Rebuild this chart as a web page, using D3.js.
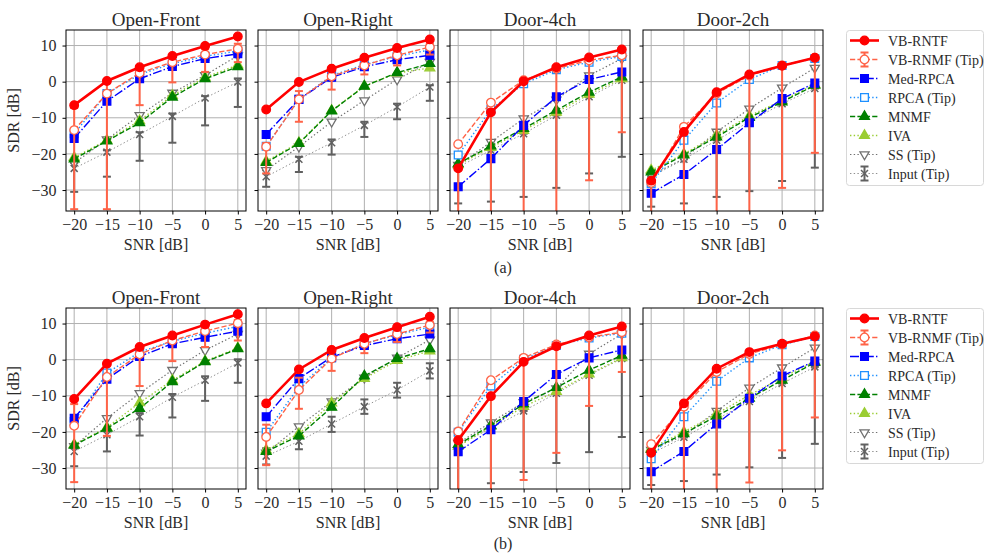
<!DOCTYPE html>
<html>
<head>
<meta charset="utf-8">
<script src="https://cdn.jsdelivr.net/npm/d3@7"></script>
<style>
  body { margin: 0; background: #fff; }
  text { font-family: "Liberation Serif", "DejaVu Serif", serif; fill: #2a2a2a; }
</style>
</head>
<body>
<div id="chart"></div>
<script>
// x axis values and names
const snr = [-20, -15, -10, -5, 0, 5];
const yTicks = [10, 0, -10, -20, -30];
const panelTitles = ["Open-Front", "Open-Right", "Door-4ch", "Door-2ch"];
const methods = ["VB-RNTF", "VB-RNMF (Tip)", "Med-RPCA", "RPCA (Tip)", "MNMF", "IVA", "SS (Tip)", "Input (Tip)"];

// SDR values, one row per method (same order as `methods`)
// (a)
const sdrA_OpenFront = [
  [-6.5, 0.2, 4.0, 7.1, 9.9, 12.5],
  [-13.4, -3.3, 2.4, 5.4, 7.5, 9.1],
  [-15.7, -5.4, 0.8, 4.2, 6.4, 7.7],
  [-14.4, -3.3, 2.0, 5.0, 7.0, 8.5],
  [-21.4, -16.4, -11.4, -4.3, 0.8, 4.1],
  [-21.0, -16.2, -10.8, -3.8, 1.2, 4.6],
  [-22.5, -16.0, -9.3, -3.1, 1.8, 7.2],
  [-24.0, -19.5, -14.6, -9.6, -4.5, -0.1]
];
const sdrA_OpenRight = [
  [-7.7, -0.1, 3.6, 6.6, 9.3, 11.7],
  [-18.0, -4.9, 1.5, 4.5, 7.3, 9.6],
  [-14.6, -4.9, 1.2, 4.1, 6.1, 7.3],
  [-17.9, -4.9, 1.7, 4.7, 7.0, 8.8],
  [-22.4, -17.1, -8.1, -1.3, 2.5, 5.0],
  [-22.0, -16.9, -8.0, -1.2, 2.4, 3.8],
  [-24.5, -18.0, -11.1, -5.2, 0.6, 5.4],
  [-26.3, -21.5, -16.9, -12.1, -7.0, -1.5]
];
const sdrA_Door4ch = [
  [-24.0, -8.5, 0.1, 4.0, 6.7, 8.9],
  [-17.3, -5.8, 0.4, 3.6, 5.9, 7.3],
  [-29.1, -21.3, -12.1, -4.2, 0.6, 2.7],
  [-20.3, -7.7, -0.6, 3.3, 5.4, 7.0],
  [-22.7, -17.8, -13.0, -7.9, -2.9, 1.3],
  [-23.0, -18.2, -13.5, -8.5, -3.5, 0.8],
  [-23.1, -16.7, -10.2, -5.0, 1.7, 6.4],
  [-23.6, -19.0, -14.4, -9.3, -4.2, 0.4]
];
const sdrA_Door2ch = [
  [-27.4, -13.9, -2.9, 2.0, 4.4, 6.6],
  [-28.0, -12.5, -3.3, 1.7, 4.5, 6.6],
  [-30.9, -25.7, -18.8, -11.4, -4.7, -0.4],
  [-28.2, -16.2, -5.9, 0.6, 4.5, 6.4],
  [-25.0, -20.3, -15.3, -9.9, -5.6, -1.0],
  [-24.5, -20.0, -14.8, -9.5, -5.2, -0.8],
  [-25.9, -21.3, -13.9, -7.5, -1.7, 3.8],
  [-26.3, -21.5, -16.2, -11.1, -6.1, -1.9]
];
// (b)
const sdrB_OpenFront = [
  [-10.9, -1.1, 3.5, 6.7, 9.7, 12.6],
  [-18.3, -4.8, 1.5, 5.3, 7.9, 10.1],
  [-16.2, -5.4, 0.9, 4.4, 6.2, 7.9],
  [-17.1, -3.7, 2.1, 5.1, 7.3, 9.2],
  [-23.7, -19.0, -13.5, -6.1, -0.6, 3.0],
  [-23.5, -18.8, -11.9, -5.7, -0.4, 3.2],
  [-24.0, -16.2, -9.3, -2.9, 2.6, 7.1],
  [-25.4, -20.8, -15.8, -10.4, -5.7, -0.9]
];
const sdrB_OpenRight = [
  [-12.1, -2.7, 2.7, 6.0, 9.0, 11.9],
  [-21.4, -8.4, 0.3, 4.4, 7.1, 9.6],
  [-15.8, -5.2, 0.7, 3.9, 5.8, 7.1],
  [-20.1, -7.5, 0.5, 4.4, 6.9, 9.0],
  [-25.4, -21.1, -13.2, -4.5, 0.3, 3.0],
  [-25.0, -20.5, -12.0, -5.2, -0.2, 2.4],
  [-25.8, -18.5, -11.6, -5.0, 0.5, 5.5],
  [-26.7, -22.6, -17.8, -13.0, -8.4, -3.1]
];
const sdrB_Door4ch = [
  [-22.3, -10.1, -0.6, 3.7, 6.7, 9.2],
  [-19.9, -5.7, 0.5, 4.2, 6.2, 7.6],
  [-25.5, -19.4, -11.6, -4.1, 0.5, 2.7],
  [-20.1, -7.3, 0.1, 3.9, 6.0, 7.3],
  [-23.5, -18.2, -12.3, -7.7, -2.9, 1.2],
  [-24.0, -18.5, -13.0, -8.8, -4.0, 0.5],
  [-23.1, -17.4, -11.8, -8.0, 1.6, 7.1],
  [-23.7, -19.0, -14.2, -9.3, -4.3, 0.3]
];
const sdrB_Door2ch = [
  [-25.8, -12.1, -2.5, 2.1, 4.4, 6.4],
  [-23.4, -13.0, -3.4, 1.6, 4.2, 6.7],
  [-31.0, -25.4, -17.8, -10.7, -4.5, -0.4],
  [-27.4, -15.8, -6.0, 0.5, 4.1, 6.4],
  [-24.9, -20.5, -15.6, -10.7, -5.7, -0.8],
  [-24.5, -20.0, -15.0, -9.8, -5.0, -0.5],
  [-25.0, -21.0, -14.2, -7.8, -2.2, 3.3],
  [-26.0, -21.5, -16.5, -11.6, -6.6, -2.0]
];

// error bars: [VB-RNMF low, VB-RNMF high, Input low, Input high]
const errA_OpenFront = [
  [-35.3, -35.3, -6.5, -0.2, 2.7, 5.4],
  [-7.3, 0.5, 4.0, 7.0, 9.0, 10.5],
  [-30.5, -26.3, -21.9, -16.9, -12.1, -7.0],
  [-22.5, -19.0, -14.0, -8.8, -4.0, 0.9]
];
const errA_OpenRight = [
  [-25.4, -11.1, -2.2, 2.0, 4.5, 7.5],
  [-17.0, -2.6, 3.0, 6.0, 8.5, 10.5],
  [-29.1, -25.0, -20.2, -15.3, -10.4, -5.3],
  [-24.5, -20.8, -16.0, -11.1, -6.1, -1.0]
];
const errA_Door4ch = [
  [-40, -40, -40, -40, -27.3, -14.0],
  [-24.0, -8.5, 0.1, 4.0, 6.7, 8.9],
  [-33.7, -33.2, -31.9, -29.4, -25.4, -20.8],
  [-23.6, -19.0, -14.4, -9.3, -4.2, 0.4]
];
const errA_Door2ch = [
  [-40, -40, -40, -40, -29.4, -19.7],
  [-27.4, -13.9, -2.9, 2.0, 4.4, 6.6],
  [-34.6, -33.7, -31.9, -30.3, -27.5, -23.8],
  [-26.3, -21.5, -16.2, -11.1, -6.1, -1.9]
];
const errB_OpenFront = [
  [-33.9, -21.1, -7.3, -0.4, 3.5, 5.3],
  [-12.3, -1.0, 3.0, 6.5, 9.0, 11.0],
  [-29.5, -25.4, -21.0, -16.0, -11.4, -6.4],
  [-24.5, -19.5, -14.8, -9.5, -4.6, 0.1]
];
const errB_OpenRight = [
  [-29.2, -13.6, -3.1, 1.8, 4.9, 7.5],
  [-18.0, -5.0, 2.0, 5.5, 8.0, 10.5],
  [-29.0, -24.8, -20.0, -15.0, -10.5, -5.2],
  [-24.5, -20.5, -15.8, -11.0, -6.4, -1.0]
];
const errB_Door4ch = [
  [-40, -40, -33.3, -25.8, -12.8, -3.4],
  [-22.3, -10.1, -0.6, 3.7, 6.7, 9.2],
  [-40, -34.2, -31.1, -28.6, -25.6, -21.4],
  [-23.7, -19.0, -14.2, -9.3, -4.3, 0.3]
];
const errB_Door2ch = [
  [-40, -40, -40, -34.0, -25.1, -16.0],
  [-25.8, -12.1, -2.5, 2.1, 4.4, 6.4],
  [-34.7, -33.6, -31.8, -29.8, -27.2, -23.3],
  [-26.0, -21.5, -16.5, -11.6, -6.6, -2.0]
];

const rows = [
  { tag: "(a)", sdr: [sdrA_OpenFront, sdrA_OpenRight, sdrA_Door4ch, sdrA_Door2ch],
    err: [errA_OpenFront, errA_OpenRight, errA_Door4ch, errA_Door2ch] },
  { tag: "(b)", sdr: [sdrB_OpenFront, sdrB_OpenRight, sdrB_Door4ch, sdrB_Door2ch],
    err: [errB_OpenFront, errB_OpenRight, errB_Door4ch, errB_Door2ch] }
];

// look of each method
const styles = [
  { color: "#ff0000", lw: 2.6, dash: null,              marker: "circle",   fill: "#ff0000" },
  { color: "#ff6347", lw: 1.4, dash: "5.2,2.2",         marker: "circle",   fill: "#ffffff" },
  { color: "#0000ff", lw: 1.4, dash: "9,2.2,1.4,2.2",   marker: "square",   fill: "#0000ff" },
  { color: "#1e90ff", lw: 1.4, dash: "1.4,2.3",         marker: "square",   fill: "#ffffff" },
  { color: "#008000", lw: 1.4, dash: "5.2,2.2",         marker: "triangle", fill: "#008000" },
  { color: "#9acd32", lw: 1.4, dash: "1.4,2.3",         marker: "triangle", fill: "#9acd32" },
  { color: "#707070", lw: 1.2, dash: "1.4,2.3",         marker: "tridown",  fill: "#ffffff" },
  { color: "#909090", lw: 1.0, dash: "1.4,2.3",         marker: "x",        fill: "none" }
];
const errColor = ["#ff6347", "#606060"];

const width = 985, height = 553;
const panelLeft = [66, 258, 450, 643], panelW = 180, panelH = 181;
const rowTop = [30, 308];
const tagY = [273, 549];
const FONT = "'Liberation Serif', 'DejaVu Serif', serif";

const x = d3.scaleLinear().domain([-21.25, 6.25]).range([0, panelW]);
const y = d3.scaleLinear().domain([-35.8, 14.3]).range([panelH, 0]);

const svg = d3.select("#chart").append("svg")
  .attr("width", width).attr("height", height);

function markerPath(kind) {
  if (kind === "circle") return d3.symbol(d3.symbolCircle, 58)();
  if (kind === "square") return d3.symbol(d3.symbolSquare, 60)();
  if (kind === "triangle") return d3.symbol(d3.symbolTriangle, 42)();
  if (kind === "tridown") return d3.symbol(d3.symbolTriangle, 36)();
  return "M-3.5,-3.5L3.5,3.5M-3.5,3.5L3.5,-3.5";
}

function drawMarker(g, st, cx, cy) {
  g.append("path")
    .attr("d", markerPath(st.marker))
    .attr("transform", `translate(${cx},${cy})` + (st.marker === "tridown" ? " rotate(180)" : ""))
    .attr("fill", st.fill)
    .attr("stroke", st.marker === "x" ? "#606060" : st.color)
    .attr("stroke-width", st.marker === "x" ? 1.5 : 1.3);
}

function drawErr(g, col, xs, lo, hi) {
  g.append("line").attr("x1", xs).attr("x2", xs).attr("y1", y(lo)).attr("y2", y(hi))
    .attr("stroke", col).attr("stroke-width", 2);
  [lo, hi].forEach(v => {
    g.append("line").attr("x1", xs - 4).attr("x2", xs + 4).attr("y1", y(v)).attr("y2", y(v))
      .attr("stroke", col).attr("stroke-width", 2);
  });
}

function addText(g, txt, size) {
  return g.append("text").attr("font-size", size).attr("font-family", FONT).text(txt);
}

rows.forEach((row, r) => {
  row.sdr.forEach((vals, p) => {
    const err = row.err[p];
    const g = svg.append("g").attr("transform", `translate(${panelLeft[p]},${rowTop[r]})`);
    const clipId = `clip-${r}-${p}`;
    g.append("clipPath").attr("id", clipId)
      .append("rect").attr("width", panelW).attr("height", panelH);

    // grid
    g.selectAll(".gx").data(snr).enter().append("line")
      .attr("x1", d => x(d)).attr("x2", d => x(d)).attr("y1", 0).attr("y2", panelH)
      .attr("stroke", "#b0b0b0").attr("stroke-width", 1);
    g.selectAll(".gy").data(yTicks).enter().append("line")
      .attr("x1", 0).attr("x2", panelW).attr("y1", d => y(d)).attr("y2", d => y(d))
      .attr("stroke", "#b0b0b0").attr("stroke-width", 1);

    const plot = g.append("g").attr("clip-path", `url(#${clipId})`);
    const line = d3.line().x((d, i) => x(snr[i])).y(d => y(d));

    // draw back to front so VB-RNTF ends up on top
    for (let m = methods.length - 1; m >= 0; m--) {
      const st = styles[m];
      const sg = plot.append("g");
      if (m === 1 || m === 7) {
        const lo = m === 1 ? err[0] : err[2], hi = m === 1 ? err[1] : err[3];
        snr.forEach((s, i) => drawErr(sg, errColor[m === 1 ? 0 : 1], x(s), lo[i], hi[i]));
      }
      sg.append("path").datum(vals[m]).attr("d", line)
        .attr("fill", "none").attr("stroke", st.color).attr("stroke-width", st.lw)
        .attr("stroke-dasharray", st.dash);
      vals[m].forEach((v, i) => drawMarker(sg, st, x(snr[i]), y(v)));
    }

    // frame
    g.append("rect").attr("width", panelW).attr("height", panelH)
      .attr("fill", "none").attr("stroke", "#000").attr("stroke-width", 1);

    // axes
    const fmt = d => d < 0 ? "\u2212" + (-d) : d;
    const xAxis = d3.axisBottom(x).tickValues(snr).tickSize(3.5).tickPadding(4).tickFormat(fmt);
    g.append("g").attr("transform", `translate(0,${panelH})`).call(xAxis)
      .attr("font-family", FONT)
      .call(a => a.select(".domain").remove())
      .call(a => a.selectAll("text").attr("font-size", 16).attr("fill", "#2a2a2a"));
    const yAxis = d3.axisLeft(y).tickValues(yTicks).tickSize(3.5).tickPadding(6)
      .tickFormat(d => p === 0 ? fmt(d) : "");
    g.append("g").call(yAxis)
      .attr("font-family", FONT)
      .call(a => a.select(".domain").remove())
      .call(a => a.selectAll("text").attr("font-size", 16).attr("fill", "#2a2a2a"));

    addText(g, panelTitles[p], 19).attr("x", panelW / 2).attr("y", -4.5).attr("text-anchor", "middle");
    addText(g, "SNR [dB]", 16).attr("x", panelW / 2).attr("y", panelH + 39).attr("text-anchor", "middle");
    if (p === 0) {
      addText(g, "SDR [dB]", 16).attr("transform", `translate(-47,${panelH / 2}) rotate(-90)`)
        .attr("text-anchor", "middle");
    }
  });

  // subfigure tag
  addText(svg, row.tag, 16).attr("x", 503).attr("y", tagY[r]).attr("text-anchor", "middle");

  // legend
  const lg = svg.append("g").attr("transform", `translate(846,${rowTop[r]})`);
  lg.append("rect").attr("x", 0.5).attr("y", 0.5).attr("width", 137).attr("height", 155)
    .attr("rx", 3).attr("fill", "#fff").attr("fill-opacity", 0.8)
    .attr("stroke", "#d8d8d8").attr("stroke-width", 1);
  methods.forEach((name, m) => {
    const st = styles[m];
    const ly = 10.5 + m * 19;
    const eg = lg.append("g");
    if (m === 1 || m === 7) {
      const col = errColor[m === 1 ? 0 : 1];
      eg.append("line").attr("x1", 18.5).attr("x2", 18.5).attr("y1", ly - 7).attr("y2", ly + 7)
        .attr("stroke", col).attr("stroke-width", 2);
      [ly - 7, ly + 7].forEach(v => eg.append("line").attr("x1", 14.5).attr("x2", 22.5)
        .attr("y1", v).attr("y2", v).attr("stroke", col).attr("stroke-width", 2));
    }
    eg.append("line").attr("x1", 4).attr("x2", 33).attr("y1", ly).attr("y2", ly)
      .attr("stroke", st.color).attr("stroke-width", st.lw).attr("stroke-dasharray", st.dash);
    drawMarker(eg, st, 18.5, ly);
    addText(lg, name, 14).attr("x", 42).attr("y", ly + 5);
  });
});
</script>
</body>
</html>
